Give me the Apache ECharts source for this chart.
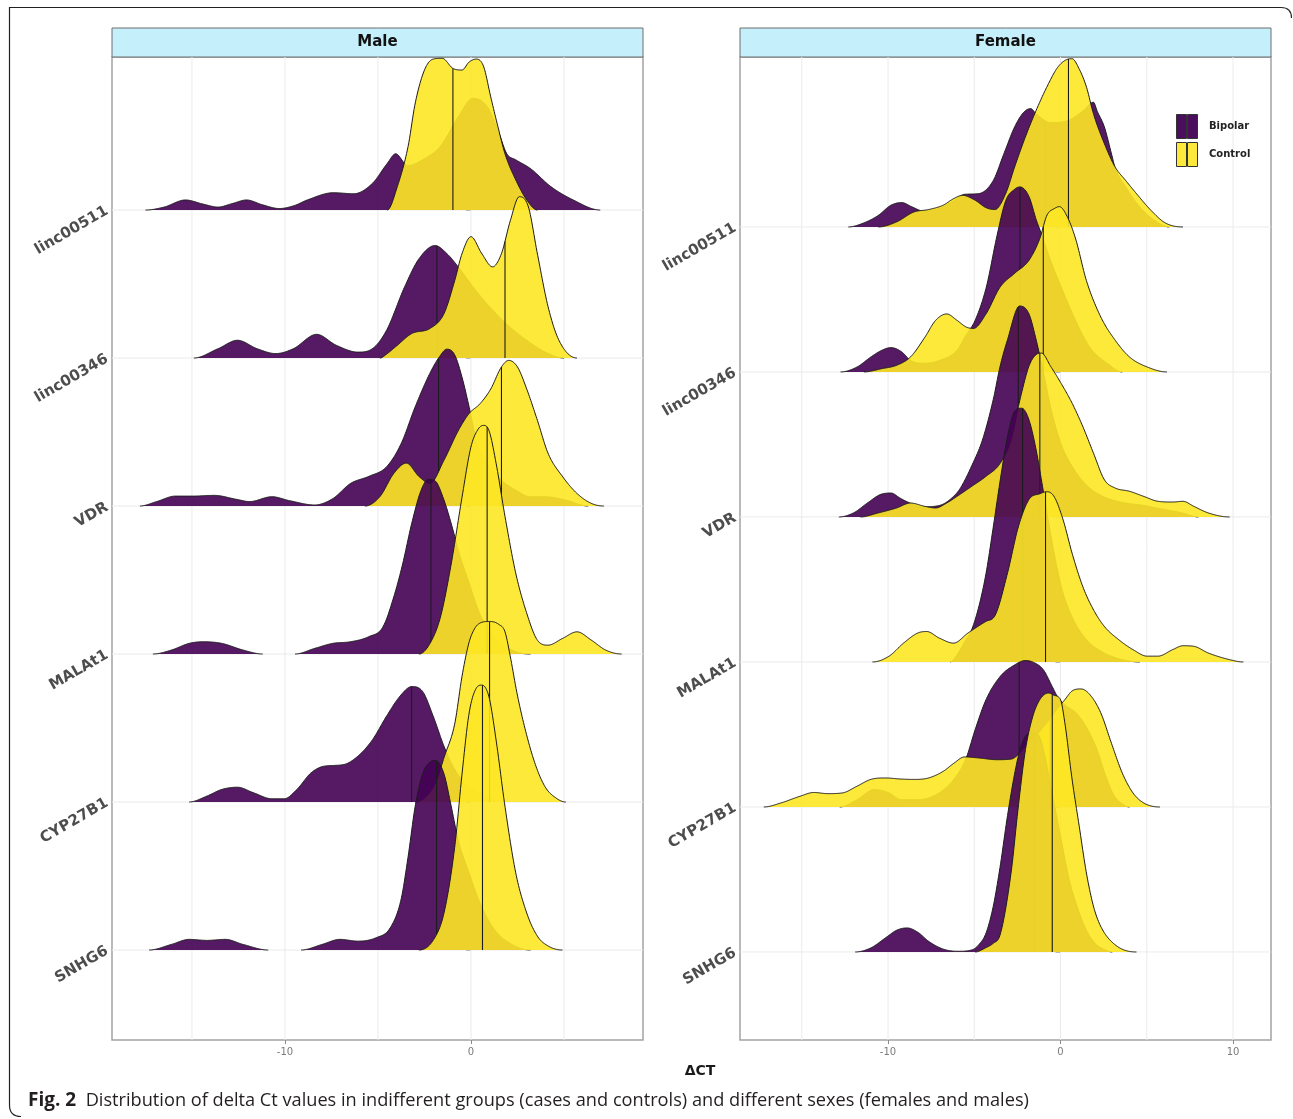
<!DOCTYPE html>
<html>
<head>
<meta charset="utf-8">
<script src="https://cdn.jsdelivr.net/npm/echarts@6/dist/echarts.min.js"></script>
<style>html,body{margin:0;padding:0;background:#fff;}#chart{width:1293px;height:1119px;}</style>
</head>
<body>
<div id="chart"></div>
<script>
// ---------------- data ----------------
const genes = ['linc00511', 'linc00346', 'VDR', 'MALAt1', 'CYP27B1', 'SNHG6'];
const groups = ['Bipolar', 'Control'];
const panels = ['Male', 'Female'];
const maleTickLabels = [-10, 0];
const femaleTickLabels = [-10, 0, 10];
const maleGridX = [-15, -10, -5, 0, 5];
const femaleGridX = [-15, -10, -5, 0, 5, 10];

// density heights in ridge units, [deltaCt, height]; null = gap in the ridge
const maleLinc00511Bip = [[-17.5,0],[-16.5,0.02],[-15.35,0.068],[-14.4,0.04],[-13.6,0.02],[-12.8,0.045],[-12.07,0.068],[-11.2,0.035],[-10.3,0.01],[-9.5,0.03],[-8.8,0.068],[-7.4,0.117],[-6.3,0.11],[-5.3,0.18],[-4.5,0.315],[-4.05,0.38],[-3.4,0.3],[-2.6,0.34],[-1.65,0.43],[-0.68,0.63],[0.1,0.755],[0.87,0.7],[1.45,0.54],[1.93,0.38],[2.4,0.34],[3.2,0.28],[4.3,0.158],[5.5,0.068],[6.95,0]];
const maleLinc00511Ctl = [[-4.5,0],[-3.96,0.158],[-3.38,0.43],[-3.0,0.72],[-2.5,0.946],[-2.03,1.02],[-1.54,1.025],[-0.97,0.957],[-0.48,0.946],[-0.1,1.0],[0.29,1.02],[0.68,0.97],[1.06,0.766],[1.45,0.563],[1.83,0.38],[2.41,0.203],[3.0,0.068],[3.57,0]];
const maleLinc00346Bip = [[-14.9,0],[-13.6,0.063],[-12.55,0.12],[-11.5,0.063],[-10.5,0.03],[-9.55,0.063],[-8.3,0.16],[-7.24,0.086],[-6.08,0.04],[-5.3,0.063],[-4.54,0.187],[-3.57,0.48],[-2.8,0.67],[-1.93,0.76],[-1.25,0.7],[-0.68,0.615],[0.3,0.45],[1.2,0.32],[2.0,0.22],[3.0,0.12],[4.0,0.04],[5.0,0]];
const maleLinc00346Ctl = [[-4.9,0],[-4.5,0.03],[-3.96,0.086],[-3.19,0.165],[-2.2,0.2],[-1.45,0.3],[-0.87,0.525],[-0.48,0.706],[0,0.82],[0.58,0.706],[1.16,0.616],[1.64,0.706],[2.12,0.93],[2.6,1.09],[3.09,1.02],[3.57,0.706],[4.15,0.345],[4.73,0.12],[5.7,0]];
const maleVdrBip = [[-17.8,0],[-16.9,0.03],[-15.9,0.067],[-15,0.067],[-13.8,0.072],[-12.6,0.045],[-11.9,0.03],[-10.7,0.063],[-9.75,0.036],[-8.4,0.007],[-7.43,0.05],[-6.47,0.153],[-5.5,0.2],[-4.54,0.265],[-3.76,0.42],[-3.0,0.67],[-2.22,0.894],[-1.74,1.0],[-1.29,1.06],[-0.87,1.02],[-0.48,0.87],[-0.1,0.67],[0.29,0.445],[0.87,0.29],[1.64,0.175],[2.4,0.108],[3.2,0.063],[3.96,0.063],[5.1,0.04],[6.3,0]];
const maleVdrCtl = [[-5.7,0],[-4.9,0.063],[-4.15,0.22],[-3.47,0.29],[-2.8,0.2],[-2.2,0.153],[-1.45,0.31],[-0.68,0.51],[-0.1,0.625],[0.48,0.69],[1.06,0.79],[1.64,0.94],[2.03,0.984],[2.5,0.94],[3.0,0.79],[3.57,0.58],[4.15,0.355],[4.92,0.2],[5.7,0.085],[6.47,0.018],[7.14,0]];
const maleMalat1Bip = [[-17.1,0],[-16.1,0.027],[-15.15,0.072],[-14.4,0.083],[-13.4,0.072],[-12.26,0.027],[-11.2,0],null,[-9.46,0],[-8.4,0.038],[-7.43,0.072],[-6.47,0.083],[-5.5,0.117],[-4.73,0.184],[-4.15,0.386],[-3.67,0.61],[-3.19,0.88],[-2.7,1.1],[-2.3,1.18],[-1.93,1.17],[-1.45,1.04],[-0.97,0.84],[-0.68,0.7],[-0.1,0.48],[0.48,0.27],[1.25,0.117],[2.2,0.027],[3.2,0]];
const maleMalat1Ctl = [[-2.8,0],[-2.2,0.072],[-1.64,0.25],[-1.06,0.61],[-0.48,1.06],[0,1.4],[0.39,1.52],[0.68,1.545],[0.97,1.51],[1.35,1.29],[1.83,0.93],[2.41,0.545],[3.0,0.275],[3.57,0.094],[4.15,0.06],[4.92,0.105],[5.7,0.15],[6.47,0.094],[7.24,0.027],[8.1,0]];
const maleCypBip = [[-15.15,0],[-14.2,0.04],[-13.4,0.085],[-12.55,0.1],[-11.7,0.063],[-10.7,0.022],[-10.04,0.022],[-9.36,0.085],[-8.6,0.197],[-7.9,0.242],[-6.85,0.253],[-6.08,0.31],[-5.3,0.42],[-4.54,0.58],[-3.76,0.724],[-3.19,0.78],[-2.6,0.747],[-2.03,0.58],[-1.45,0.377],[-0.87,0.22],[-0.1,0.108],[0.87,0.04],[1.83,0]];
const maleCypCtl = [[-3.0,0],[-2.22,0.063],[-1.83,0.152],[-1.45,0.3],[-0.87,0.53],[-0.48,0.85],[-0.1,1.08],[0.19,1.17],[0.5,1.21],[1.0,1.22],[1.5,1.2],[1.83,1.15],[2.12,0.98],[2.5,0.72],[3.0,0.45],[3.5,0.24],[4.0,0.1],[4.54,0.03],[5.1,0]];
const maleSnhgBip = [[-17.3,0],[-16.1,0.038],[-15.15,0.072],[-14.2,0.065],[-13.2,0.072],[-12.26,0.038],[-10.9,0],null,[-9.13,0],[-8.0,0.038],[-7.05,0.072],[-6.08,0.06],[-5.1,0.083],[-4.34,0.15],[-3.76,0.34],[-3.38,0.63],[-3.0,0.97],[-2.6,1.19],[-2.2,1.27],[-1.9,1.28],[-1.45,1.19],[-1.06,0.97],[-0.68,0.74],[-0.1,0.52],[0.48,0.32],[1.25,0.14],[2.2,0.038],[3.2,0]];
const maleSnhgCtl = [[-2.8,0],[-2.0,0.072],[-1.45,0.25],[-0.87,0.7],[-0.48,1.19],[-0.1,1.6],[0.29,1.77],[0.58,1.79],[0.97,1.71],[1.35,1.42],[1.83,0.97],[2.41,0.52],[3.0,0.25],[3.57,0.094],[4.15,0.027],[4.92,0]];

const femLinc00511Bip = [[-12.3,0],[-11.4,0.028],[-10.56,0.08],[-9.83,0.15],[-9.2,0.168],[-8.6,0.138],[-7.96,0.11],[-7.0,0.13],[-6.2,0.18],[-5.57,0.225],[-4.74,0.23],[-3.9,0.32],[-3.28,0.506],[-2.66,0.69],[-2.14,0.79],[-1.73,0.816],[-1.41,0.78],[-0.58,0.72],[0.46,0.735],[1.29,0.8],[1.91,0.86],[2.12,0.8],[2.54,0.69],[2.95,0.506],[3.16,0.41],[3.78,0.276],[4.6,0.138],[5.45,0.046],[6.3,0]];
const femLinc00511Ctl = [[-10.56,0],[-9.5,0.035],[-8.5,0.103],[-7.65,0.12],[-6.8,0.15],[-6.2,0.195],[-5.68,0.218],[-4.95,0.184],[-4.32,0.133],[-3.8,0.12],[-3.18,0.23],[-2.66,0.414],[-2.04,0.62],[-1.41,0.805],[-0.79,0.966],[-0.17,1.1],[0.35,1.154],[0.67,1.16],[1.08,1.09],[1.5,0.966],[1.91,0.78],[2.54,0.575],[3.16,0.414],[3.78,0.32],[4.4,0.23],[5.24,0.115],[6.07,0.028],[7.1,0]];
const femLinc00346Bip = [[-12.75,0],[-11.8,0.034],[-11.0,0.103],[-10.35,0.15],[-9.83,0.168],[-9.2,0.138],[-8.7,0.08],[-8.0,0.06],[-7.0,0.08],[-6.0,0.15],[-5.5,0.25],[-4.95,0.356],[-4.3,0.586],[-3.7,0.93],[-3.18,1.18],[-2.66,1.26],[-2.35,1.276],[-1.83,1.21],[-1.41,1.05],[-1.1,0.95],[-0.58,0.77],[0.04,0.586],[0.87,0.356],[1.7,0.17],[2.74,0.057],[3.58,0]];
const femLinc00346Ctl = [[-11.4,0],[-10.35,0.023],[-9.5,0.046],[-8.7,0.103],[-7.86,0.24],[-7.24,0.356],[-6.6,0.4],[-6.0,0.356],[-5.47,0.31],[-5.05,0.3],[-4.32,0.4],[-3.5,0.586],[-2.66,0.68],[-1.83,0.77],[-1.2,0.92],[-0.79,1.08],[-0.37,1.126],[-0.06,1.14],[0.35,1.08],[0.87,0.92],[1.5,0.63],[2.33,0.38],[3.16,0.22],[4.0,0.103],[5.03,0.034],[6.17,0]];
const femVdrBip = [[-12.85,0],[-12.0,0.028],[-11.2,0.096],[-10.46,0.154],[-9.83,0.165],[-9.3,0.13],[-8.8,0.1],[-8.0,0.07],[-7.0,0.08],[-6.2,0.142],[-5.8,0.2],[-5.16,0.35],[-4.53,0.53],[-3.9,0.81],[-3.5,1.04],[-3.08,1.22],[-2.37,1.455],[-1.83,1.4],[-1.41,1.22],[-1.0,1.0],[-0.5,0.72],[0.04,0.5],[0.67,0.35],[1.5,0.22],[2.5,0.14],[3.6,0.1],[4.8,0.08],[5.65,0.06],[7.0,0.03],[8.0,0]];
const femVdrCtl = [[-11.6,0],[-10.56,0.028],[-9.5,0.062],[-8.7,0.096],[-7.86,0.073],[-7.24,0.062],[-6.6,0.096],[-6.0,0.142],[-5.16,0.21],[-4.32,0.28],[-3.5,0.37],[-2.87,0.53],[-2.35,0.81],[-1.83,1.04],[-1.41,1.12],[-1.1,1.13],[-0.58,1.04],[0.04,0.92],[0.67,0.785],[1.29,0.624],[1.91,0.44],[2.54,0.257],[3.16,0.2],[4.0,0.177],[4.82,0.142],[5.65,0.108],[6.5,0.103],[7.1,0.108],[7.73,0.073],[8.56,0.028],[9.8,0]];
const femMalat1Bip = [[-6.4,0],[-6.0,0.05],[-5.5,0.15],[-5.16,0.22],[-4.74,0.38],[-4.32,0.61],[-3.9,0.93],[-3.5,1.25],[-3.08,1.55],[-2.66,1.73],[-2.25,1.75],[-1.83,1.67],[-1.41,1.46],[-1.1,1.25],[-0.79,1.03],[-0.37,0.75],[0.04,0.52],[0.67,0.31],[1.5,0.154],[2.54,0.062],[3.6,0.016],[4.6,0]];
const femMalat1Ctl = [[-10.9,0],[-9.94,0.04],[-9.1,0.13],[-8.27,0.2],[-7.75,0.21],[-7.03,0.165],[-6.2,0.13],[-5.36,0.2],[-4.32,0.28],[-3.8,0.32],[-3.08,0.61],[-2.45,0.93],[-1.83,1.12],[-1.2,1.16],[-0.79,1.174],[-0.37,1.14],[0.15,0.98],[0.67,0.75],[1.29,0.52],[1.91,0.36],[2.54,0.245],[3.37,0.154],[4.2,0.085],[5.03,0.04],[5.65,0.04],[6.5,0.085],[7.1,0.112],[7.73,0.108],[8.56,0.062],[9.8,0.016],[10.6,0]];
const femCypBip = [[-12.8,0],[-11.8,0.05],[-10.8,0.12],[-10.0,0.1],[-9.2,0.05],[-8.3,0.05],[-7.0,0.1],[-6.0,0.22],[-5.47,0.338],[-4.95,0.533],[-4.32,0.74],[-3.5,0.9],[-2.66,0.98],[-2.04,1.01],[-1.62,1.0],[-1.0,0.947],[-0.48,0.83],[-0.17,0.76],[0.3,0.7],[0.9,0.65],[1.5,0.55],[2.1,0.4],[2.6,0.22],[3.1,0.08],[3.6,0.02],[4.0,0]];
const femCypCtl = [[-17.2,0],[-16.2,0.028],[-15.1,0.074],[-14.3,0.1],[-13.5,0.092],[-12.64,0.097],[-11.8,0.143],[-11.0,0.19],[-10.15,0.2],[-9.3,0.193],[-8.5,0.19],[-7.65,0.2],[-6.8,0.246],[-6.2,0.3],[-5.57,0.345],[-4.74,0.338],[-3.7,0.326],[-2.87,0.33],[-2.0,0.42],[-1.0,0.55],[-0.3,0.66],[0.25,0.74],[0.67,0.8],[1.19,0.814],[1.7,0.775],[2.33,0.65],[2.95,0.44],[3.58,0.234],[4.2,0.097],[4.82,0.028],[5.76,0]];
const femSnhgBip = [[-11.9,0],[-11.0,0.028],[-10.15,0.097],[-9.5,0.15],[-8.9,0.166],[-8.27,0.136],[-7.65,0.074],[-6.8,0.02],[-5.96,0.005],[-5.1,0.016],[-4.74,0.05],[-4.32,0.13],[-3.9,0.315],[-3.5,0.59],[-3.08,0.935],[-2.66,1.23],[-2.35,1.395],[-2.04,1.487],[-1.7,1.51],[-1.3,1.5],[-1.0,1.4],[-0.5,1.1],[0,0.8],[0.5,0.5],[1.0,0.3],[1.5,0.15],[2.0,0.06],[2.5,0.02],[3.0,0]];
const femSnhgCtl = [[-4.95,0],[-4.32,0.03],[-3.9,0.06],[-3.5,0.12],[-2.87,0.544],[-2.45,1.0],[-2.04,1.39],[-1.62,1.62],[-1.2,1.74],[-0.69,1.786],[-0.37,1.77],[0,1.74],[0.25,1.58],[0.67,1.19],[1.08,0.87],[1.5,0.545],[1.91,0.315],[2.33,0.177],[3.16,0.05],[4.4,0]];

// medians per gene (gene order above)
const maleMedianBip = [-0.97, -1.83, -1.74, -2.15, -3.19, -1.85];
const maleMedianCtl = [-0.97, 1.83, 1.64, 0.87, 1.0, 0.62];
const femMedianBip = [-0.9, -2.35, -2.45, -2.2, -2.4, -1.5];
const femMedianCtl = [0.46, -1.0, -1.2, -0.87, -0.6, -0.48];

const maleBip = [maleLinc00511Bip, maleLinc00346Bip, maleVdrBip, maleMalat1Bip, maleCypBip, maleSnhgBip];
const maleCtl = [maleLinc00511Ctl, maleLinc00346Ctl, maleVdrCtl, maleMalat1Ctl, maleCypCtl, maleSnhgCtl];
const femBip = [femLinc00511Bip, femLinc00346Bip, femVdrBip, femMalat1Bip, femCypBip, femSnhgBip];
const femCtl = [femLinc00511Ctl, femLinc00346Ctl, femVdrCtl, femMalat1Ctl, femCypCtl, femSnhgCtl];

// ---------------- styling ----------------
const FILL = ['rgba(68,1,84,0.9)', 'rgba(253,231,37,0.9)'];
const LEGEND_FILL = ['#4a0e5c', '#fde93b'];
const LINE = '#1c1c1c';
const FONT = 'DejaVu Sans';

function splitSegments(pts) {
  const segs = []; let cur = [];
  pts.forEach(p => { if (p === null) { if (cur.length) segs.push(cur); cur = []; } else cur.push(p); });
  if (cur.length) segs.push(cur);
  return segs;
}
// monotone cubic (Fritsch-Carlson) used only for drawing smooth outlines
function monotone(seg) {
  const xs = seg.map(p => p[0]), ys = seg.map(p => p[1]), n = xs.length;
  const d = [], m = new Array(n).fill(0);
  for (let i = 0; i < n - 1; i++) d.push((ys[i + 1] - ys[i]) / (xs[i + 1] - xs[i]));
  for (let i = 1; i < n - 1; i++) m[i] = (d[i - 1] * d[i] <= 0) ? 0 : (d[i - 1] + d[i]) / 2;
  m[0] = 0; m[n - 1] = 0;
  for (let i = 0; i < n - 1; i++) {
    if (d[i] === 0) { m[i] = 0; m[i + 1] = 0; continue; }
    const a = m[i] / d[i], b = m[i + 1] / d[i], s = a * a + b * b;
    if (s > 9) { const t = 3 / Math.sqrt(s); m[i] = t * a * d[i]; m[i + 1] = t * b * d[i]; }
  }
  return function (x) {
    let i = 0;
    while (i < n - 2 && x > xs[i + 1]) i++;
    const h = xs[i + 1] - xs[i], t = (x - xs[i]) / h, t2 = t * t, t3 = t2 * t;
    return (2 * t3 - 3 * t2 + 1) * ys[i] + (t3 - 2 * t2 + t) * h * m[i] + (-2 * t3 + 3 * t2) * ys[i + 1] + (t3 - t2) * h * m[i + 1];
  };
}

function curveSeries(panelIdx, geneIdx, groupIdx, pts, median) {
  const base = 6 - geneIdx;
  const segs = splitSegments(pts).map(s => ({ s: s, f: monotone(s) }));
  return {
    type: 'custom', name: groups[groupIdx], xAxisIndex: panelIdx, yAxisIndex: panelIdx,
    silent: true, z: 2, itemStyle: { color: LEGEND_FILL[groupIdx] },
    data: [[median, base]],
    renderItem: function (params, api) {
      const fills = [], outlines = [], extra = [];
      segs.forEach(({ s, f }) => {
        const x0 = s[0][0], x1 = s[s.length - 1][0];
        const n = Math.max(2, Math.ceil((x1 - x0) / 0.04));
        const top = [];
        for (let k = 0; k <= n; k++) {
          const x = x0 + (x1 - x0) * k / n;
          top.push(api.coord([x, base + Math.max(0, f(x))]));
        }
        const poly = [api.coord([x0, base])].concat(top, [api.coord([x1, base])]);
        fills.push({ type: 'polygon', shape: { points: poly }, style: { fill: FILL[groupIdx], stroke: null } });
        outlines.push({ type: 'polyline', shape: { points: top }, style: { fill: null, stroke: LINE, lineWidth: 1, lineJoin: 'round' } });
        if (median >= x0 && median <= x1) {
          const p1 = api.coord([median, base]), p2 = api.coord([median, base + Math.max(0, f(median))]);
          extra.push({ type: 'line', shape: { x1: p1[0], y1: p1[1], x2: p2[0], y2: p2[1] }, style: { stroke: LINE, lineWidth: 1.1 } });
        }
      });
      return { type: 'group', children: fills.concat(extra, outlines) };
    }
  };
}

function vGridSeries(panelIdx, xs) {
  return {
    type: 'custom', xAxisIndex: panelIdx, yAxisIndex: panelIdx, silent: true, z: 1,
    data: xs.map(v => [v, 1]),
    renderItem: function (params, api) {
      const cs = params.coordSys, p = api.coord([api.value(0), api.value(1)]);
      return { type: 'line', shape: { x1: p[0], y1: cs.y, x2: p[0], y2: cs.y + cs.height }, style: { stroke: '#ebebeb', lineWidth: 1 } };
    }
  };
}
function hGridSeries(panelIdx, xRef) {
  return {
    type: 'custom', xAxisIndex: panelIdx, yAxisIndex: panelIdx, silent: true, z: 1,
    data: genes.map((g, i) => [xRef, 6 - i]),
    renderItem: function (params, api) {
      const cs = params.coordSys, p = api.coord([api.value(0), api.value(1)]);
      return { type: 'line', shape: { x1: cs.x, y1: p[1], x2: cs.x + cs.width, y2: p[1] }, style: { stroke: '#ebebeb', lineWidth: 1 } };
    }
  };
}

const series = [vGridSeries(0, maleGridX), hGridSeries(0, 0), vGridSeries(1, femaleGridX), hGridSeries(1, 0)];
[[maleBip, maleCtl, maleMedianBip, maleMedianCtl], [femBip, femCtl, femMedianBip, femMedianCtl]].forEach((pd, pi) => {
  for (let g = 0; g < genes.length; g++) {
    series.push(curveSeries(pi, g, 0, pd[0][g], pd[2][g]));
    series.push(curveSeries(pi, g, 1, pd[1][g], pd[3][g]));
  }
});

const GRID = [{ left: 112, top: 57, width: 531, height: 983 }, { left: 740, top: 57, width: 531, height: 983 }];
const XR = [[-19.3, 9.25], [-18.58, 12.2]];
const YR = [[0.392, 7.034], [0.393, 7.172]];
const TICKS = [maleTickLabels, femaleTickLabels];

function xAxis(i) {
  return {
    gridIndex: i, type: 'value', min: XR[i][0], max: XR[i][1],
    axisLine: { show: false }, splitLine: { show: false },
    axisTick: { show: true, customValues: TICKS[i], length: 4, lineStyle: { color: '#8a8a8a' } },
    axisLabel: { customValues: TICKS[i], margin: 7, fontFamily: FONT, fontSize: 10, color: '#7a7a7a' }
  };
}
function yAxis(i) {
  return {
    gridIndex: i, type: 'value', min: YR[i][0], max: YR[i][1],
    axisLine: { show: false }, splitLine: { show: false },
    axisTick: { show: true, customValues: [1, 2, 3, 4, 5, 6], length: 5, lineStyle: { color: '#8a8a8a' } },
    axisLabel: {
      customValues: [1, 2, 3, 4, 5, 6], formatter: v => genes[6 - Math.round(v)],
      rotate: 30, margin: 5, fontFamily: FONT, fontWeight: 'bold', fontSize: 15, color: '#4d4d4d'
    }
  };
}

const ICON = 'path://M0,0L10,0L10,24L0,24Z M11,0L21,0L21,24L11,24Z';
const graphics = [];
panels.forEach((p, i) => {
  graphics.push({ type: 'rect', shape: { x: GRID[i].left, y: 28, width: GRID[i].width, height: 29 }, style: { fill: '#c4effb', stroke: '#6e6e6e', lineWidth: 1 }, silent: true });
  graphics.push({ type: 'text', x: GRID[i].left + GRID[i].width / 2, y: 42.5, style: { text: p, fontFamily: FONT, fontWeight: 'bold', fontSize: 15, fill: '#111', textAlign: 'center', textVerticalAlign: 'middle' }, silent: true });
});
graphics.push({ type: 'text', x: 700, y: 1071, style: { text: 'ΔCT', fontFamily: FONT, fontWeight: 'bold', fontSize: 14, fill: '#1a1a1a', textAlign: 'center', textVerticalAlign: 'middle' }, silent: true });
// figure frame
graphics.push({ type: 'polyline', shape: { points: [[9.5, 1105], [9.5, 7.5], [1281, 7.5]] }, style: { stroke: '#231f20', lineWidth: 1.2, fill: null }, silent: true });
graphics.push({ type: 'bezierCurve', shape: { x1: 1281, y1: 7.5, cpx1: 1291.5, cpy1: 7.5, x2: 1291.5, y2: 18 }, style: { stroke: '#231f20', lineWidth: 1.2, fill: null }, silent: true });
graphics.push({ type: 'bezierCurve', shape: { x1: 9.5, y1: 1105, cpx1: 9.5, cpy1: 1116.5, x2: 21, y2: 1116.5 }, style: { stroke: '#231f20', lineWidth: 1.2, fill: null }, silent: true });

const option = {
  animation: false,
  backgroundColor: '#ffffff',
  title: {
    left: 23, top: 1086,
    text: '{b|Fig. 2}{n|  Distribution of delta Ct values in indifferent groups (cases and controls) and different sexes (females and males)}',
    textStyle: {
      fontWeight: 'normal',
      rich: {
        b: { fontFamily: 'Open Sans', fontWeight: 'bold', fontSize: 19, color: '#231f20' },
        n: { fontFamily: 'Open Sans', fontWeight: 'normal', fontSize: 18.2, color: '#231f20' }
      }
    }
  },
  legend: {
    orient: 'vertical', left: 1171, top: 109, itemWidth: 22, itemHeight: 24, itemGap: 3, selectedMode: false,
    data: groups.map((g, i) => ({ name: g, icon: ICON, itemStyle: { color: LEGEND_FILL[i], borderColor: '#333', borderWidth: 1 } })),
    textStyle: { fontFamily: FONT, fontWeight: 'bold', fontSize: 10, color: '#222', padding: [0, 0, 0, 6] }
  },
  grid: GRID.map(g => Object.assign({ show: true, borderColor: '#a3a3a3', borderWidth: 1.5, backgroundColor: 'transparent' }, g)),
  xAxis: [xAxis(0), xAxis(1)],
  yAxis: [yAxis(0), yAxis(1)],
  graphic: { elements: graphics },
  series: series
};

const chart = echarts.init(document.getElementById('chart'), null, { renderer: 'canvas' });
chart.setOption(option);
</script>
</body>
</html>
